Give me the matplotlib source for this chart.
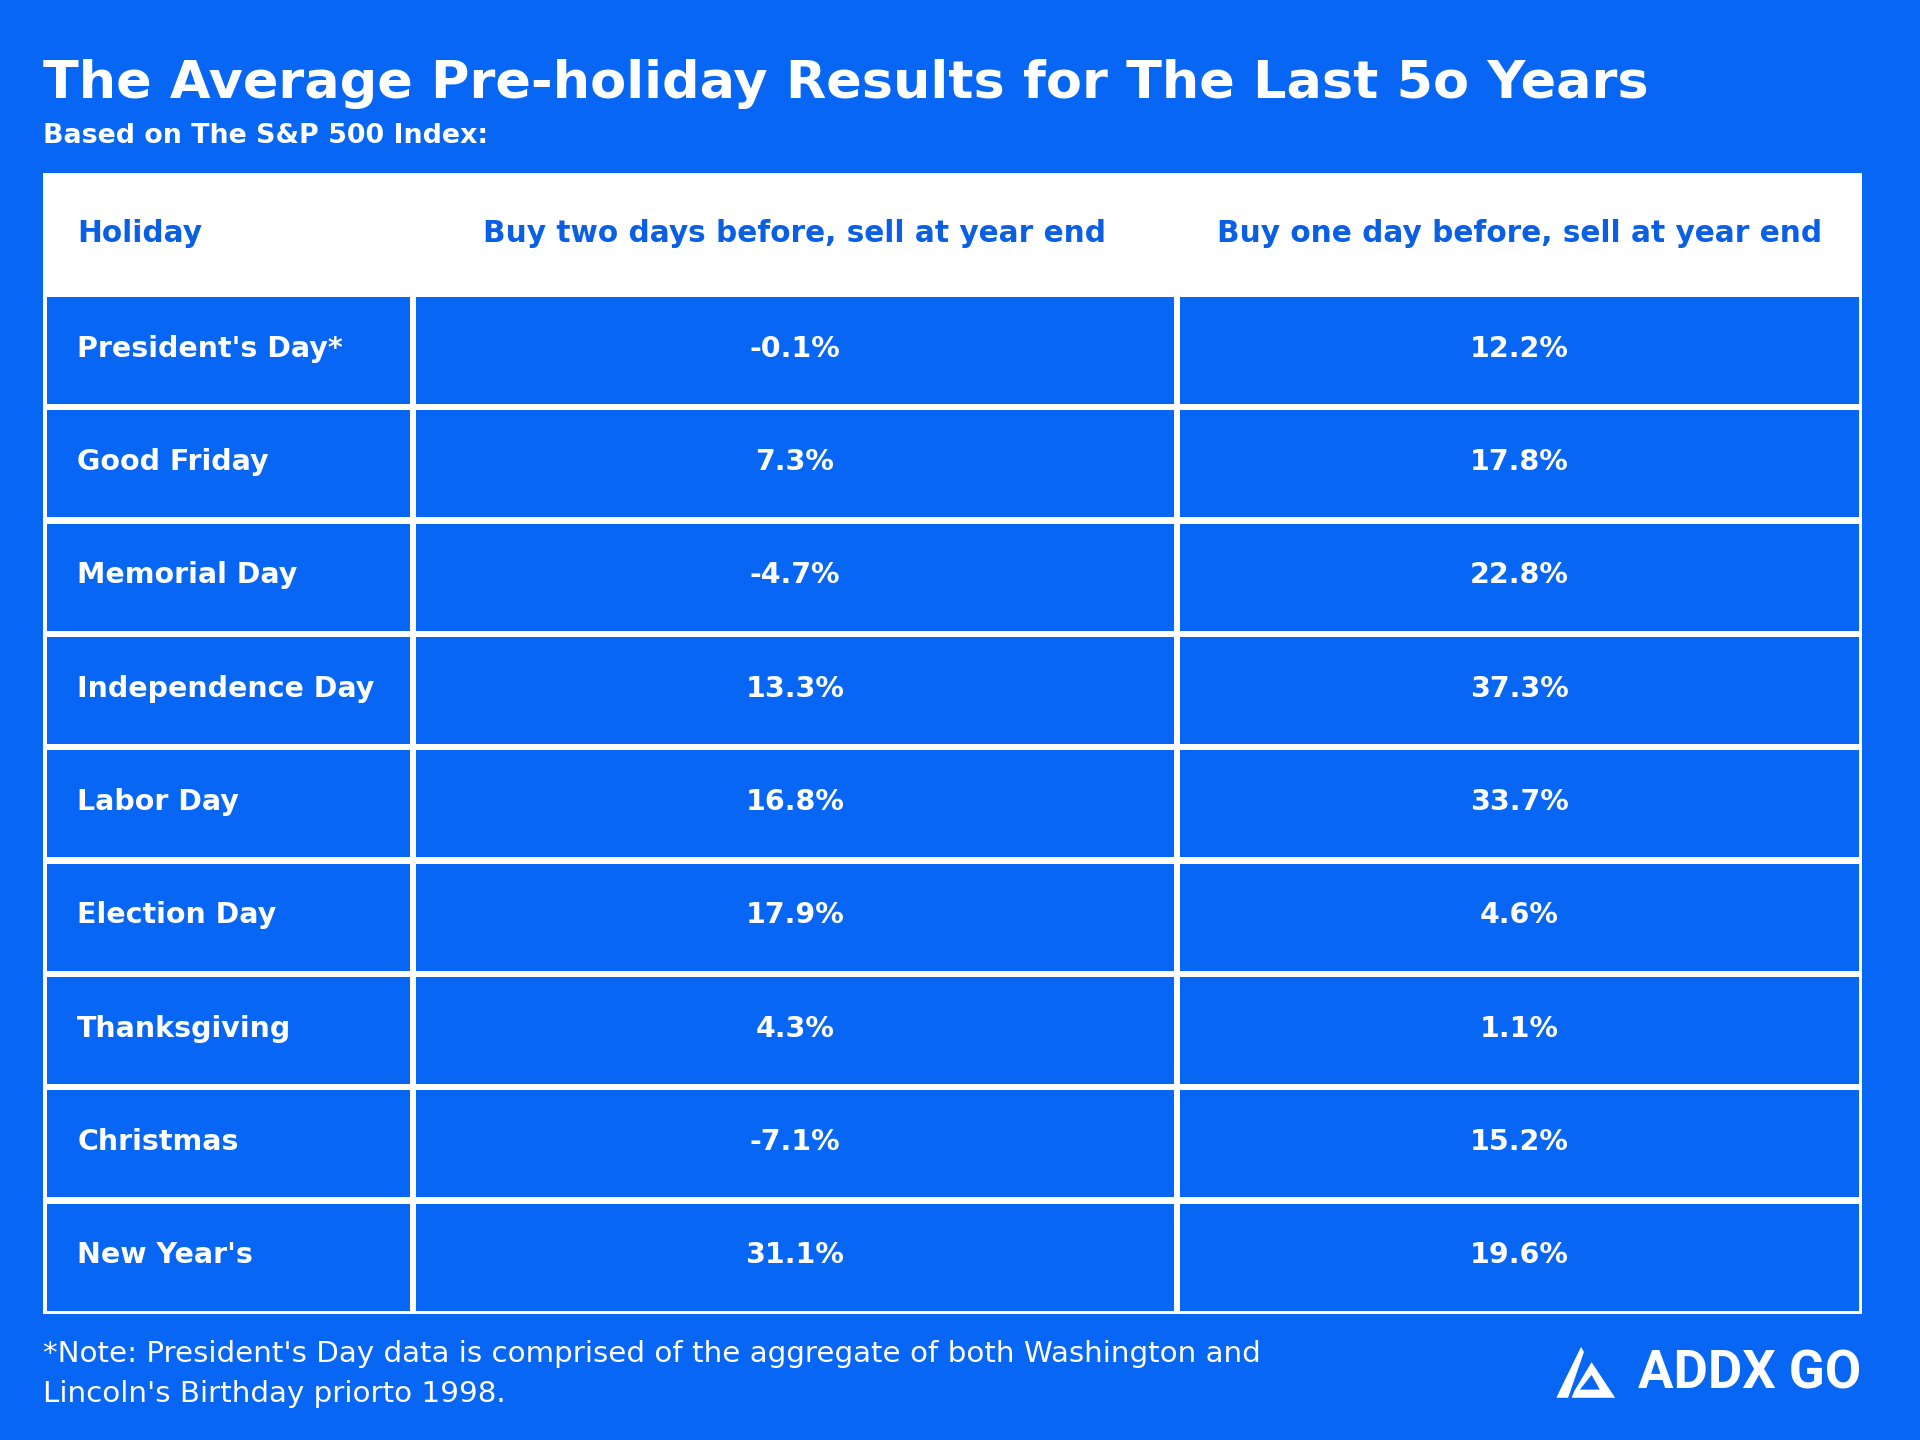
import matplotlib
matplotlib.use("Agg")
import matplotlib.pyplot as plt
from matplotlib.patches import Rectangle, Polygon

# ---- data ----
title = "The Average Pre-holiday Results for The Last 5o Years"
subtitle = "Based on The S&P 500 Index:"
columns = ["Holiday", "Buy two days before, sell at year end",
           "Buy one day before, sell at year end"]
holidays = ["President's Day*", "Good Friday", "Memorial Day",
            "Independence Day", "Labor Day", "Election Day",
            "Thanksgiving", "Christmas", "New Year's"]
two_days = [-0.1, 7.3, -4.7, 13.3, 16.8, 17.9, 4.3, -7.1, 31.1]
one_day = [12.2, 17.8, 22.8, 37.3, 33.7, 4.6, 1.1, 15.2, 19.6]
note = ("*Note: President's Day data is comprised of the aggregate of both Washington and\n"
        "Lincoln's Birthday priorto 1998.")
brand = "ADDX GO"

BLUE = '#0866f4'
HEAD_BLUE = '#0a5fe4'
W, H = 1568, 1176  # layout units (scaled to 1920x1440 on output)

fig = plt.figure(figsize=(19.2, 14.4), dpi=100)
fig.patch.set_facecolor(BLUE)
ax = fig.add_axes([0, 0, 1, 1])
ax.set_xlim(0, W)
ax.set_ylim(H, 0)
ax.axis('off')
ax.set_facecolor(BLUE)

fig.canvas.draw()
renderer = fig.canvas.get_renderer()
px_per_unit = 1920.0 / W


def fit(t, width):
    # scale font so the text spans the given width (layout units)
    bb = t.get_window_extent(renderer=renderer)
    t.set_fontsize(t.get_fontsize() * width * px_per_unit / bb.width)
    return t.get_fontsize()


FONT = 'DejaVu Sans'

t = ax.text(35, 80, title, color='white', fontsize=40, fontweight='bold',
            family=FONT, ha='left', va='baseline')
fit(t, 1310)
t = ax.text(35, 111, subtitle, color='white', fontsize=16, fontweight='bold',
            family=FONT, ha='left', va='center')
fit(t, 364)

# ---- table ----
x_edges = [35, 337, 961, 1521]
top, head_bot, bot = 141, 240, 1073
row_h = (bot - head_bot) / len(holidays)
g = 2.5

ax.add_patch(Rectangle((x_edges[0], top), x_edges[-1] - x_edges[0], bot - top,
                       facecolor='white', edgecolor='none'))
for i in range(len(holidays)):
    y0 = head_bot + i * row_h
    for j in range(3):
        ax.add_patch(Rectangle((x_edges[j] + g + (1 if j == 0 else 0), y0 + g),
                               x_edges[j + 1] - x_edges[j] - 2 * g - (1 if j == 0 else 0),
                               row_h - 2 * g, facecolor=BLUE, edgecolor='none'))

head_y = (top + head_bot) / 2
ht = ax.text(x_edges[0] + 28, head_y, columns[0], color=HEAD_BLUE, fontweight='bold',
             family=FONT, fontsize=18, ha='left', va='center')
h1 = ax.text((x_edges[1] + x_edges[2]) / 2, head_y, columns[1], color=HEAD_BLUE,
             fontweight='bold', family=FONT, fontsize=18, ha='center', va='center')
hs = fit(h1, 510)
ht.set_fontsize(hs)
ax.text((x_edges[2] + x_edges[3]) / 2, head_y, columns[2], color=HEAD_BLUE,
        fontweight='bold', family=FONT, fontsize=hs, ha='center', va='center')

probe = ax.text(0, -100, "Independence Day", fontweight='bold', family=FONT, fontsize=18)
bs = fit(probe, 243)
probe.remove()

for i, name in enumerate(holidays):
    yc = head_bot + (i + 0.5) * row_h - 1.5
    ax.text(x_edges[0] + 28, yc, name, color='white', fontweight='bold',
            family=FONT, fontsize=bs, ha='left', va='center')
    ax.text((x_edges[1] + x_edges[2]) / 2, yc, "%.1f%%" % two_days[i], color='white',
            fontweight='bold', family=FONT, fontsize=bs, ha='center', va='center')
    ax.text((x_edges[2] + x_edges[3]) / 2, yc, "%.1f%%" % one_day[i], color='white',
            fontweight='bold', family=FONT, fontsize=bs, ha='center', va='center')

# ---- footer ----
nt = ax.text(35, 1122, note, color='white', family=FONT, fontsize=16,
             ha='left', va='center', linespacing=1.55)
fit(nt, 996)

lt = ax.text(1520, 1122, brand, color='white', family='Roboto', fontweight='bold',
             fontsize=30, ha='right', va='center')
fit(lt, 182)

# logo mark, drawn in a unit box
lx, ly, lw, lh = 1271, 1100, 48, 41.5
def logo_poly(pts, color):
    ax.add_patch(Polygon([(lx + u * lw, ly + v * lh) for u, v in pts],
                         closed=True, facecolor=color, edgecolor='none'))

logo_poly([(0, 1), (0.2, 1), (0.47, 0.1), (0.42, 0)], 'white')
logo_poly([(0.6, 0.3), (1, 1), (0.26, 1), (0.31, 0.86)], 'white')
logo_poly([(0.6, 0.55), (0.74, 0.84), (0.40, 0.84)], BLUE)

fig.savefig("out.png", dpi=100, facecolor=BLUE)
